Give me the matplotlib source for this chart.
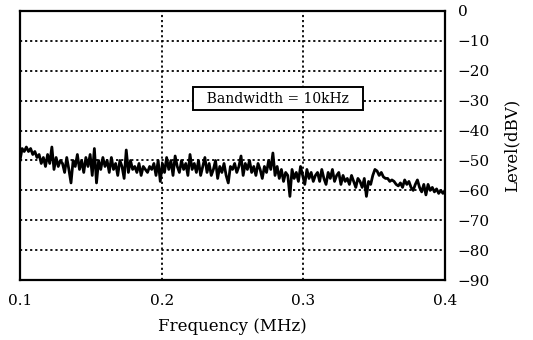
import numpy as np
import matplotlib
matplotlib.use("Agg")
import matplotlib.pyplot as plt

# noise level, 0.1 .. 0.4 MHz
level = [
    -50, -46, -47, -45.5, -47, -46, -48, -47, -49, -48, -51, -49, -52, -48, -51, -45.5, -53, -49, -52, -50,
    -51, -54, -49, -53, -57.5, -50, -52, -48, -53, -50, -54, -49, -52, -48, -55, -46, -57.5, -50, -53, -49,
    -52, -50, -54, -49, -53, -51, -55, -50, -52, -56, -46.5, -54, -50, -53, -52, -54, -51, -55, -52, -53,
    -54, -52, -53, -51, -55, -50, -57, -51, -54, -49, -53, -50, -55, -48.5, -52, -54, -50, -53, -51, -55,
    -48, -53, -51, -54, -50, -55, -52, -49, -54, -51, -55, -53, -50, -56, -52, -54, -51, -55, -57.5, -52,
    -53, -51, -54, -52, -48.5, -55, -51, -53, -50, -54, -52, -55, -51, -53, -56, -52, -54, -50, -53, -47.5,
    -55, -52, -56, -53, -57, -54, -55, -62, -53, -56, -54, -57, -52, -55, -58, -53, -56, -54, -57, -55,
    -54, -57, -53, -56, -58, -54, -56, -53, -57, -55, -54, -58, -55, -57, -56, -58, -55, -57, -59, -56,
    -57, -59, -56, -62, -57, -58, -55, -53, -53.5, -55, -54, -55.5, -56, -56, -57, -56.5, -57, -58, -58.5, -57.5,
    -59, -56.5, -58, -57, -59, -60, -58, -56.5, -59, -60.5, -58, -61.5, -58, -60, -59, -60.5, -59.5, -61, -60, -61, -60,
]
freq = np.linspace(0.1, 0.4, len(level))

x_ticks = [0.1, 0.2, 0.3, 0.4]
y_ticks = [0, -10, -20, -30, -40, -50, -60, -70, -80, -90]
y_labels = ["0", "\u221210", "\u221220", "\u221230", "\u221240", "\u221250",
            "\u221260", "\u221270", "\u221280", "\u221290"]

plt.rcParams['font.family'] = 'DejaVu Serif'

fig = plt.figure(figsize=(5.33, 3.40), dpi=100)
ax = fig.add_axes([0.0375, 0.176, 0.7975, 0.792])

# dotted grid
for yv in y_ticks[1:-1]:
    ax.axhline(yv, color='black', linestyle=(0, (1.2, 1.6)), linewidth=1.3, zorder=1)
for xv in x_ticks[1:-1]:
    ax.axvline(xv, color='black', linestyle=(0, (1.2, 1.6)), linewidth=1.3, zorder=1)

ax.plot(freq, level, color='black', linewidth=2.0, zorder=3)

ax.set_xlim(0.1, 0.4)
ax.set_ylim(-90, 0)
ax.set_xticks(x_ticks)
ax.set_xticklabels([f"{v:.1f}" for v in x_ticks])
ax.set_yticks(y_ticks)
ax.set_yticklabels(y_labels)
ax.yaxis.tick_right()
ax.yaxis.set_label_position('right')
ax.tick_params(axis='both', length=0, labelsize=11)
ax.tick_params(axis='x', pad=10)
ax.tick_params(axis='y', pad=9)

for s in ax.spines.values():
    s.set_linewidth(1.6)

ax.set_xlabel('Frequency (MHz)', fontsize=12, labelpad=7)
ax.set_ylabel('Level(dBV)', fontsize=12, labelpad=10)

ax.text(0.282, -29.3, '  Bandwidth = 10kHz  ', ha='center', va='center', fontsize=10,
        bbox=dict(boxstyle='square,pad=0.35', facecolor='white', edgecolor='black', linewidth=1.4),
        zorder=5)

fig.savefig('out.png', dpi=100)
